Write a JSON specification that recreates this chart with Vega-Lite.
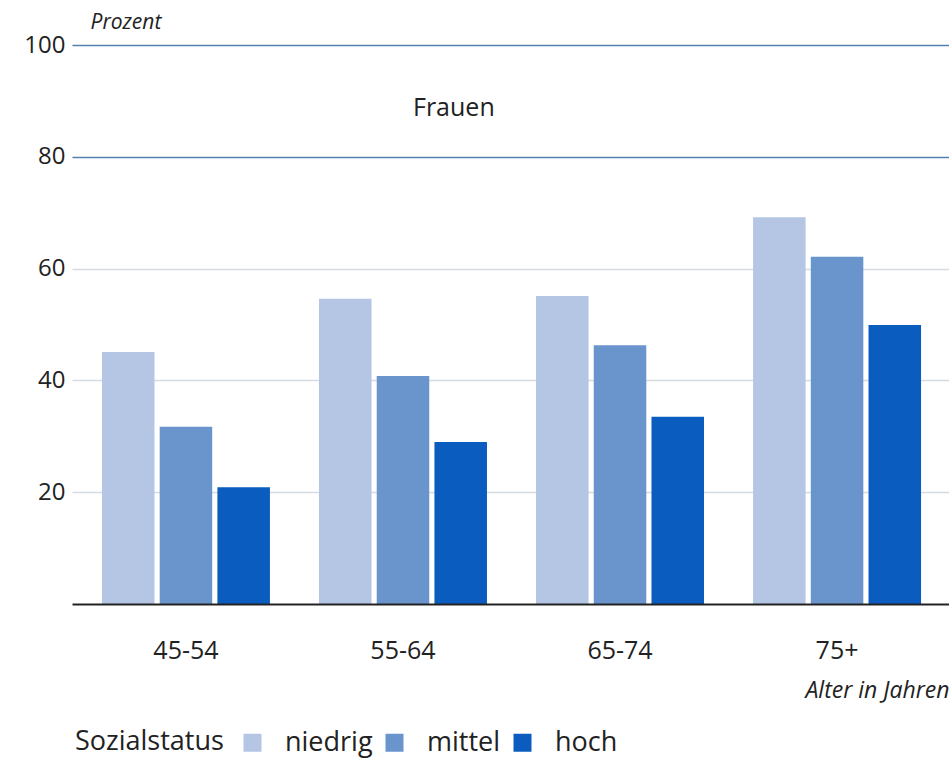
{
  "$schema": "https://vega.github.io/schema/vega-lite/v6.json",
  "width": 879,
  "height": 559,
  "autosize": "none",
  "padding": {"left": 72, "top": 45, "right": 0, "bottom": 155},
  "background": "white",
  "config": {"view": {"stroke": null}, "font": "Open Sans"},
  "title": {"text": "Frauen", "orient": "none", "anchor": "start", "frame": "group", "dx": 341, "dy": 63, "offset": 0, "baseline": "middle", "fontSize": 25, "fontWeight": "normal", "color": "#222"},
  "data": {"values": [
    {"age": "45-54", "status": "niedrig", "value": 45.1},
    {"age": "45-54", "status": "mittel", "value": 31.7},
    {"age": "45-54", "status": "hoch", "value": 20.9},
    {"age": "55-64", "status": "niedrig", "value": 54.6},
    {"age": "55-64", "status": "mittel", "value": 40.8},
    {"age": "55-64", "status": "hoch", "value": 29.0},
    {"age": "65-74", "status": "niedrig", "value": 55.1},
    {"age": "65-74", "status": "mittel", "value": 46.3},
    {"age": "65-74", "status": "hoch", "value": 33.5},
    {"age": "75+", "status": "niedrig", "value": 69.2},
    {"age": "75+", "status": "mittel", "value": 62.1},
    {"age": "75+", "status": "hoch", "value": 49.9}
  ]},
  "mark": {"type": "bar"},
  "encoding": {
    "x": {"field": "age", "type": "nominal", "sort": null,
      "scale": {"paddingInner": 0.226, "paddingOuter": 0.138},
      "axis": {"title": "Alter in Jahren", "titleFontStyle": "italic", "titleFontWeight": "normal", "titleFontSize": 23, "titleColor": "#222", "titleAnchor": "end", "titleAlign": "right", "titleX": 877, "titleY": 86, "titleBaseline": "middle",
        "labelAngle": 0, "labelFontSize": 25, "labelColor": "#222", "labelPadding": 46, "labelBaseline": "middle",
        "ticks": false, "domainColor": "#222", "domainWidth": 2, "grid": false, "zindex": 1}},
    "xOffset": {"field": "status", "type": "nominal", "sort": ["niedrig", "mittel", "hoch"], "scale": {"paddingInner": 0.09}},
    "y": {"field": "value", "type": "quantitative",
      "scale": {"domain": [0, 100], "nice": false},
      "axis": {"values": [20, 40, 60, 80, 100], "title": "Prozent", "titleAngle": 0, "titleFontStyle": "italic", "titleFontWeight": "normal", "titleFontSize": 21, "titleColor": "#222", "titleAlign": "left", "titleX": 18, "titleY": -23, "titleBaseline": "middle",
        "labelFontSize": 24, "labelColor": "#222", "labelPadding": 7, "ticks": false, "domain": false,
        "grid": true, "gridWidth": 1.5,
        "gridColor": {"condition": {"test": "datum.value >= 80", "value": "#5580b0"}, "value": "#d6dbe1"}}},
    "color": {"field": "status", "type": "nominal", "sort": ["niedrig", "mittel", "hoch"],
      "scale": {"domain": ["niedrig", "mittel", "hoch"], "range": ["#b4c6e3", "#6a95cc", "#0a5cbf"]},
      "legend": {"title": "Sozialstatus", "orient": "none", "legendX": 3, "legendY": 684, "direction": "horizontal", "titleOrient": "left", "titleFontSize": 27, "titleFontWeight": "normal", "titleColor": "#222", "titlePadding": 15, "titleBaseline": "middle",
        "labelFontSize": 27, "labelColor": "#222", "symbolType": "square", "symbolSize": 324, "symbolStrokeWidth": 0, "symbolOpacity": 1, "columnPadding": 8, "labelOffset": 19}}
  }
}
